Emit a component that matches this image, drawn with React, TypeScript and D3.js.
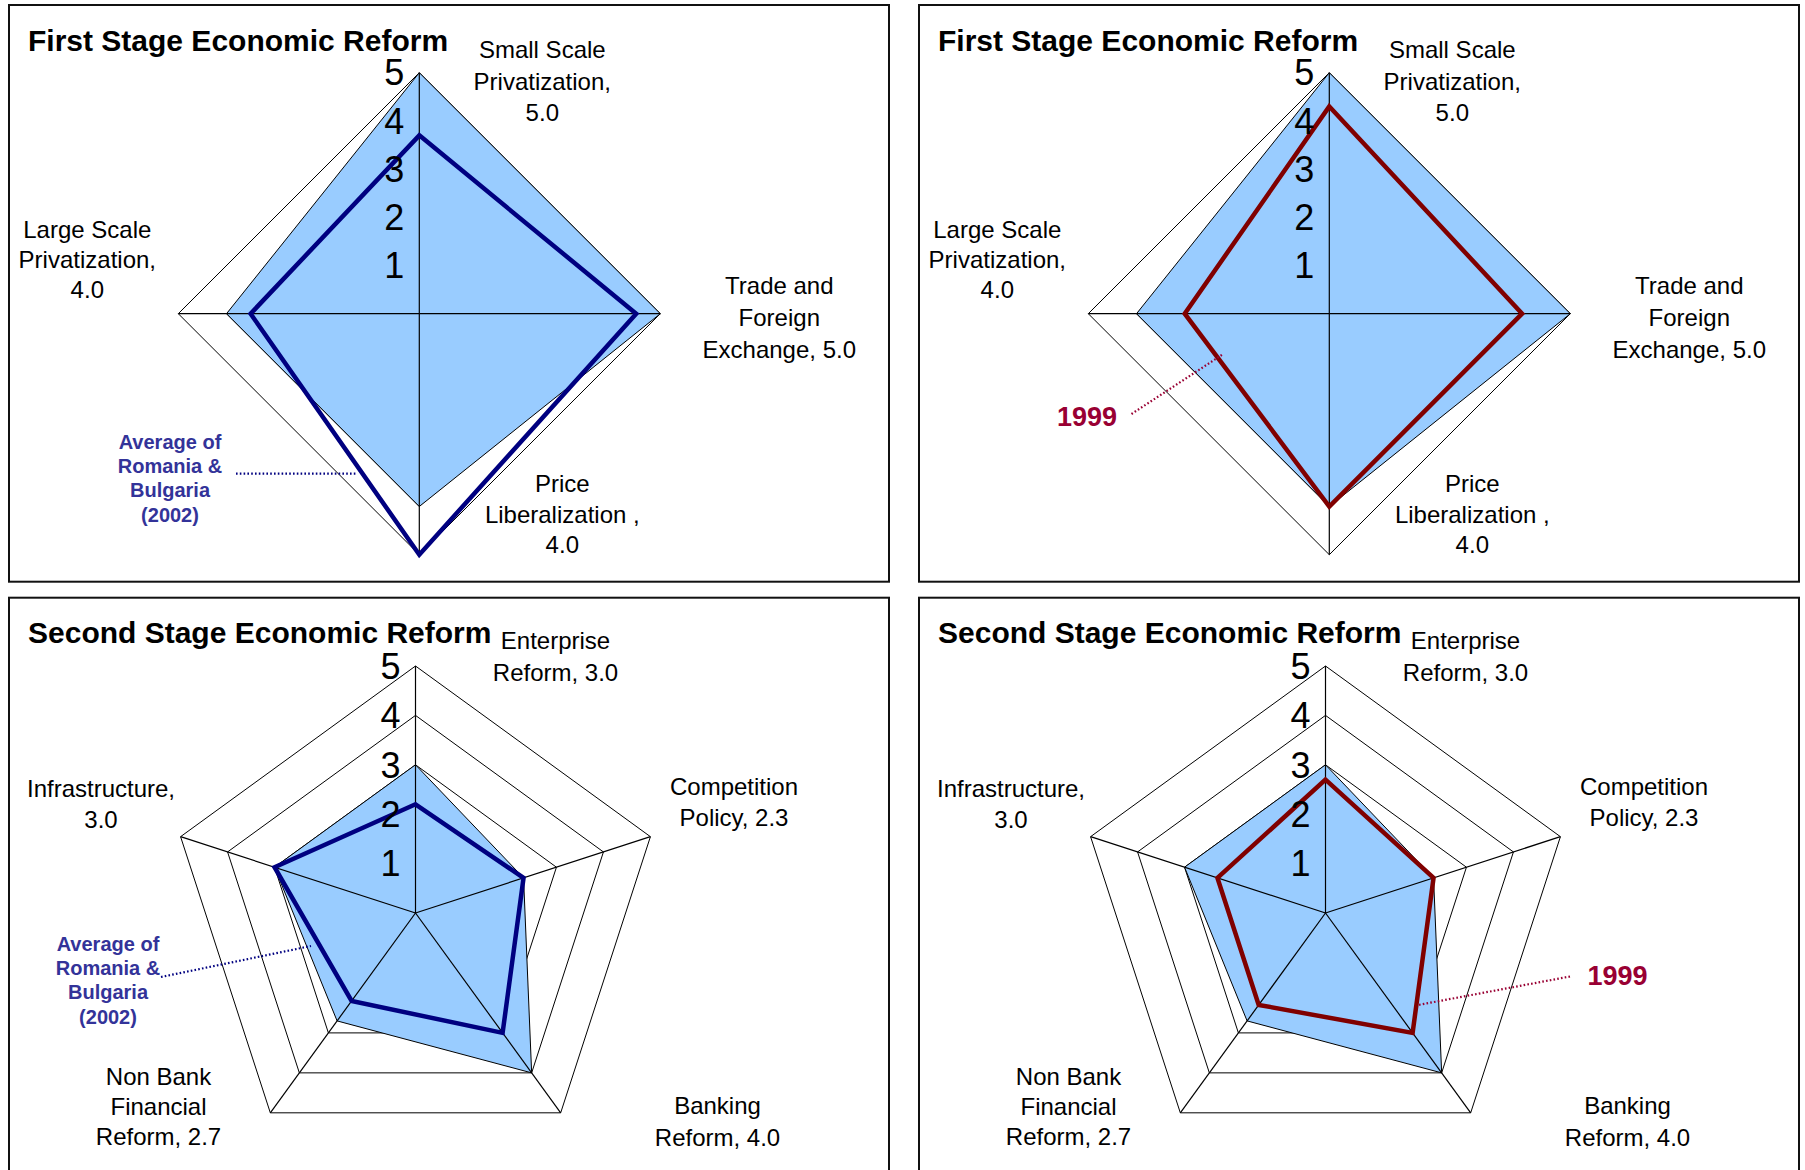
import React from "react";
import * as d3 from "d3";

// ---------- DATA ----------
const radialTicks = [1, 2, 3, 4, 5];

const firstStageCategories = [
  "Small Scale Privatization",
  "Trade and Foreign Exchange",
  "Price Liberalization",
  "Large Scale Privatization",
];
const firstStageLabels = [
  ["Small Scale", "Privatization,", "5.0"],
  ["Trade and", "Foreign", "Exchange, 5.0"],
  ["Price", "Liberalization ,", "4.0"],
  ["Large Scale", "Privatization,", "4.0"],
];
const firstStageBenchmark = [5.0, 5.0, 4.0, 4.0];
const firstStageAvg2002 = [3.7, 4.5, 5.0, 3.5];
const firstStage1999 = [4.3, 4.0, 4.0, 3.0];

const secondStageCategories = [
  "Enterprise Reform",
  "Competition Policy",
  "Banking Reform",
  "Non Bank Financial Reform",
  "Infrastructure",
];
const secondStageLabels = [
  ["Enterprise", "Reform, 3.0"],
  ["Competition", "Policy, 2.3"],
  ["Banking", "Reform, 4.0"],
  ["Non Bank", "Financial", "Reform, 2.7"],
  ["Infrastructure,", "3.0"],
];
const secondStageBenchmark = [3.0, 2.3, 4.0, 2.7, 3.0];
const secondStageAvg2002 = [2.2, 2.3, 3.0, 2.2, 3.0];
const secondStage1999 = [2.7, 2.3, 3.0, 2.3, 2.3];

const panelTitles = ["First Stage Economic Reform", "Second Stage Economic Reform"];
const avgAnnotation = ["Average of", "Romania &", "Bulgaria", "(2002)"];
const yearAnnotation = "1999";

// ---------- LAYOUT ----------
const FONT = "'Liberation Sans', Arial, Helvetica, sans-serif";
const FILL = "#99CCFF";
const NAVY = "#000080";
const MAROON = "#800000";
const NAVY_TEXT = "#333399";
const RED_TEXT = "#990033";
const PANEL_DX = 910;

// label offsets relative to the radar centre (first-line baseline, line height)
const firstLabelOffsets = [
  [123, -255.5, 31.5],
  [360, -20, 32],
  [143, 178.5, 30.5],
  [-332, -75.5, 30],
];
const secondLabelOffsets = [
  [140, -264, 31.5],
  [318.5, -118.5, 31.5],
  [302, 201, 31.5],
  [-257, 172, 30],
  [-314.5, -116.5, 31.5],
];

type PanelProps = {
  box: [number, number, number, number];
  cx: number;
  cy: number;
  radius: number;
  title: string;
  categories: string[];
  labels: string[][];
  labelOffsets: number[][];
  benchmark: number[];
  series: number[];
  seriesColor: string;
  annotation: React.ReactNode;
};

function RadarPanel(p: PanelProps) {
  const n = p.categories.length;
  const r = d3.scaleLinear().domain([0, 5]).range([0, p.radius]);
  const angle = d3
    .scalePoint<number>()
    .domain(d3.range(n + 1))
    .range([0, 2 * Math.PI]);
  const radial = d3
    .lineRadial<number>()
    .angle((_, i) => angle(i) as number)
    .radius((v) => r(v))
    .curve(d3.curveLinearClosed);
  const tr = `translate(${p.cx},${p.cy})`;
  const [bx, by, bw, bh] = p.box;
  const numFont = 36;
  return (
    <g>
      <rect x={bx} y={by} width={bw} height={bh} fill="#fff" stroke="#111" strokeWidth={2} />
      <text x={bx + 19} y={by + 45.7} fontFamily={FONT} fontWeight="bold" fontSize={30} fill="#000">
        {p.title}
      </text>
      <g transform={tr}>
        {radialTicks.map((t) => (
          <path key={t} d={radial(p.categories.map(() => t)) || ""} fill="none" stroke="#000" strokeWidth={1} />
        ))}
        <path d={radial(p.benchmark) || ""} fill={FILL} stroke="#000" strokeWidth={1} />
        {p.categories.map((c, i) => {
          const a = angle(i) as number;
          return (
            <line
              key={c}
              x1={0}
              y1={0}
              x2={r(5) * Math.sin(a)}
              y2={-r(5) * Math.cos(a)}
              stroke="#000"
              strokeWidth={1.2}
            />
          );
        })}
        <path
          d={radial(p.series) || ""}
          fill="none"
          stroke={p.seriesColor}
          strokeWidth={4.5}
          strokeLinejoin="miter"
          strokeMiterlimit={6}
        />
        {radialTicks.map((t) => (
          <text
            key={t}
            x={-15}
            y={-r(t) + numFont * 0.355}
            textAnchor="end"
            fontFamily={FONT}
            fontSize={numFont}
            fill="#000"
          >
            {t}
          </text>
        ))}
        {p.labels.map((lines, i) => (
          <text
            key={i}
            x={p.labelOffsets[i][0]}
            y={p.labelOffsets[i][1]}
            textAnchor="middle"
            fontFamily={FONT}
            fontSize={24}
            fill="#000"
          >
            {lines.map((ln, j) => (
              <tspan key={j} x={p.labelOffsets[i][0]} dy={j === 0 ? 0 : p.labelOffsets[i][2]}>
                {ln}
              </tspan>
            ))}
          </text>
        ))}
      </g>
      {p.annotation}
    </g>
  );
}

function AvgLabel({ x, y, x1, y1, x2, y2 }: { x: number; y: number; x1: number; y1: number; x2: number; y2: number }) {
  return (
    <g>
      <line x1={x1} y1={y1} x2={x2} y2={y2} stroke={NAVY} strokeWidth={2.2} strokeDasharray="1.6 2.2" />
      <text x={x} y={y} textAnchor="middle" fontFamily={FONT} fontWeight="bold" fontSize={20} fill={NAVY_TEXT}>
        {avgAnnotation.map((ln, j) => (
          <tspan key={j} x={x} dy={j === 0 ? 0 : 24.2}>
            {ln}
          </tspan>
        ))}
      </text>
    </g>
  );
}

function YearLabel({ x, y, x1, y1, x2, y2 }: { x: number; y: number; x1: number; y1: number; x2: number; y2: number }) {
  return (
    <g>
      <line x1={x1} y1={y1} x2={x2} y2={y2} stroke={RED_TEXT} strokeWidth={2.2} strokeDasharray="1.6 2.2" />
      <text x={x} y={y} textAnchor="middle" fontFamily={FONT} fontWeight="bold" fontSize={27} fill={RED_TEXT}>
        {yearAnnotation}
      </text>
    </g>
  );
}

export default function App() {
  const topBox: [number, number, number, number] = [9, 5, 880, 576.7];
  const botBox: [number, number, number, number] = [9, 597.7, 880, 600];
  const c1 = { x: 419.3, y: 313.7, r: 241 };
  const c2 = { x: 415.5, y: 913, r: 247 };
  return (
    <svg
      width={1805}
      height={1170}
      style={{ position: "absolute", left: 0, top: 0, background: "#fff" }}
      xmlns="http://www.w3.org/2000/svg"
    >
      <rect x={0} y={0} width={1805} height={1170} fill="#fff" />
      <RadarPanel
        box={topBox}
        cx={c1.x}
        cy={c1.y}
        radius={c1.r}
        title={panelTitles[0]}
        categories={firstStageCategories}
        labels={firstStageLabels}
        labelOffsets={firstLabelOffsets}
        benchmark={firstStageBenchmark}
        series={firstStageAvg2002}
        seriesColor={NAVY}
        annotation={<AvgLabel x={170} y={449} x1={236} y1={473.6} x2={357} y2={473.6} />}
      />
      <RadarPanel
        box={[topBox[0] + PANEL_DX, topBox[1], topBox[2], topBox[3]]}
        cx={c1.x + PANEL_DX}
        cy={c1.y}
        radius={c1.r}
        title={panelTitles[0]}
        categories={firstStageCategories}
        labels={firstStageLabels}
        labelOffsets={firstLabelOffsets}
        benchmark={firstStageBenchmark}
        series={firstStage1999}
        seriesColor={MAROON}
        annotation={<YearLabel x={1087} y={426} x1={1131.5} y1={414} x2={1222.5} y2={354.5} />}
      />
      <RadarPanel
        box={botBox}
        cx={c2.x}
        cy={c2.y}
        radius={c2.r}
        title={panelTitles[1]}
        categories={secondStageCategories}
        labels={secondStageLabels}
        labelOffsets={secondLabelOffsets}
        benchmark={secondStageBenchmark}
        series={secondStageAvg2002}
        seriesColor={NAVY}
        annotation={<AvgLabel x={108} y={951} x1={161} y1={977} x2={311} y2={946} />}
      />
      <RadarPanel
        box={[botBox[0] + PANEL_DX, botBox[1], botBox[2], botBox[3]]}
        cx={c2.x + PANEL_DX}
        cy={c2.y}
        radius={c2.r}
        title={panelTitles[1]}
        categories={secondStageCategories}
        labels={secondStageLabels}
        labelOffsets={secondLabelOffsets}
        benchmark={secondStageBenchmark}
        series={secondStage1999}
        seriesColor={MAROON}
        annotation={<YearLabel x={1617.5} y={985} x1={1570} y1={976.5} x2={1418} y2={1005} />}
      />
    </svg>
  );
}
